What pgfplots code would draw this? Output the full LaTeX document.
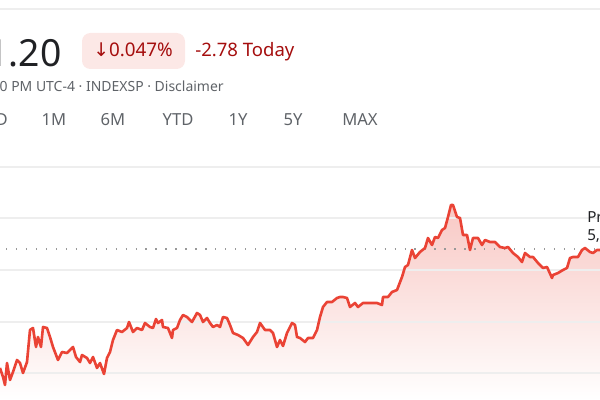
\documentclass[border=0pt]{standalone}
\usepackage{pgfplots}
\pgfplotsset{compat=1.18}
\usepgfplotslibrary{fillbetween}
\usepackage{fontspec}
\setmainfont{Noto Sans}
\newfontfamily\symfont{DejaVu Sans}

\definecolor{gline}{HTML}{EA4335}
\definecolor{gpink}{HTML}{F8C8C4}
\definecolor{gdark}{HTML}{202124}
\definecolor{ggray}{HTML}{5F6368}
\definecolor{gred}{HTML}{A50E0E}
\definecolor{gpill}{HTML}{FCE8E6}
\definecolor{ggrid}{HTML}{EEEEEE}

\tikzset{tabl/.style={anchor=base, text=ggray, font=\fontsize{12}{14}\selectfont, inner sep=0pt}}

% price line, in screen units (x: 0..600, y: pixels from top)
\pgfplotstableread{
x y
0 368
3 377
5 385
7 363
10 380
13 372
17 360
20 363
23 373
27 362
30 330
33 328
36 347
38 337
41 347
43 327
47 328
50 337
53 347
58 360
62 352
67 353
72 348
73 347
76 357
80 362
82 355
87 358
90 363
93 357
97 368
100 363
104 374
107 358
110 352
113 340
117 330
122 332
127 328
129 322
133 332
137 328
142 330
145 323
150 327
153 328
156 319
158 323
162 320
163 327
168 328
172 338
173 330
177 328
180 320
183 315
187 317
192 322
197 313
200 315
203 322
207 318
210 323
213 327
217 325
220 327
223 317
227 318
230 325
233 333
238 335
243 338
248 345
253 337
257 332
260 323
265 330
270 330
273 333
277 347
280 340
283 346
287 333
292 323
295 325
297 337
300 338
305 342
308 338
313 338
317 330
320 317
323 307
327 302
332 302
337 298
340 297
343 297
347 298
350 307
355 303
358 307
363 303
370 303
377 303
382 305
383 297
388 297
392 292
397 290
402 277
405 267
408 265
412 250
415 258
420 252
425 248
428 238
432 245
435 237
438 238
442 230
445 228
448 217
451 205
453 205
457 217
460 218
463 235
467 235
470 250
473 238
478 238
482 245
485 240
490 242
495 242
500 247
505 248
508 247
513 253
518 257
522 262
525 253
530 257
533 257
538 263
543 268
547 267
552 278
553 275
558 273
563 270
567 268
570 258
573 257
578 257
582 250
585 248
590 252
593 253
597 250
600 250
}\price

\begin{document}
\begin{tikzpicture}
\begin{axis}[
    width=6in, height=4in,
    scale only axis,
    axis lines=none,
    xmin=0, xmax=600,
    ymin=0, ymax=400,
    y dir=reverse,
    clip=true,
]
% grid
\addplot[ggrid, line width=0.8pt] coordinates {(0,167)(600,167)};
\addplot[ggrid, line width=0.8pt] coordinates {(0,218)(600,218)};
\addplot[ggrid, line width=0.8pt] coordinates {(0,270)(600,270)};
\addplot[ggrid, line width=0.8pt] coordinates {(0,322)(600,322)};
\addplot[ggrid, line width=0.8pt] coordinates {(0,373)(600,373)};
\addplot[ggrid, line width=0.8pt] coordinates {(0,9)(600,9)};

% area under the line
\addplot[draw=none, name path=top] table[x=x, y=y] {\price};
\addplot[draw=none, name path=bot] coordinates {(0,400)(600,400)};
\addplot[top color=gpink, bottom color=white, draw=none] fill between[of=top and bot];

% previous close
\addplot[gray!80, line width=1.1pt, dash pattern=on 0.9pt off 6.3pt] coordinates {(6,249)(600,249)};

\addplot[gline, line width=1.9pt, line join=round] table[x=x, y=y] {\price};

% header texts
\node[anchor=base east, text=gdark, font=\fontsize{27}{30}\selectfont, inner sep=0pt] at (axis cs:62,67) {5,911.20};
\fill[gpill, rounded corners=6pt] (axis cs:82,33) rectangle (axis cs:185,69);
\node[anchor=base west, text=gred, font=\fontsize{13.6}{15}\selectfont, inner sep=0pt] at (axis cs:93,57) {{\symfont ↓}0.047\%};
\node[anchor=base west, text=gred, font=\fontsize{13.4}{15}\selectfont, inner sep=0pt] at (axis cs:195,57) {-2.78 Today};
\node[anchor=base east, text=ggray, font=\fontsize{10.1}{11}\selectfont, inner sep=0pt] at (axis cs:224,92) {Closed: Oct 4, 4:00 PM UTC-4 · INDEXSP · Disclaimer};

\node[tabl] at (axis cs:-3,126) {5D};
\node[tabl] at (axis cs:54,126) {1M};
\node[tabl] at (axis cs:113,126) {6M};
\node[tabl] at (axis cs:178,126) {YTD};
\node[tabl] at (axis cs:238,126) {1Y};
\node[tabl] at (axis cs:293,126) {5Y};
\node[tabl] at (axis cs:360,126) {MAX};

\node[anchor=base west, text=gdark, font=\fontsize{11}{12}\selectfont, inner sep=0pt] at (axis cs:587,223) {Previous close};
\node[anchor=base west, text=gdark, font=\fontsize{11}{12}\selectfont, inner sep=0pt] at (axis cs:587,241) {5,914.20};
\end{axis}
\pgfresetboundingbox
\useasboundingbox (current axis.south west) rectangle (current axis.north east);
\end{tikzpicture}
\end{document}
